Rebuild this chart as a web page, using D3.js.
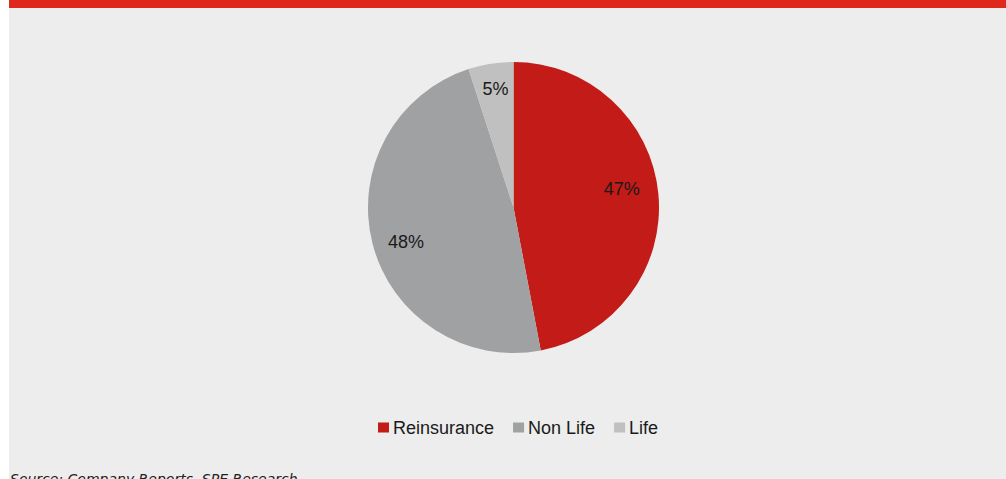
<!DOCTYPE html>
<html>
<head>
<meta charset="utf-8">
<script src="https://cdn.jsdelivr.net/npm/d3@7"></script>
<style>
  html, body { margin: 0; padding: 0; background: #ffffff; }
  svg { display: block; }
</style>
</head>
<body>
<svg id="chart" width="1006" height="479"></svg>
<script>
// ---- data ----
const categories = ["Reinsurance", "Non Life", "Life"];
const shares = [47, 48, 5];
const colors = ["#C21B18", "#A0A1A3", "#C0C0C0"];
const sourceText = "Source: Company Reports, SPE Research";

const W = 1006, H = 479;
const svg = d3.select("#chart");

// panel background
svg.append("rect").attr("x", 9).attr("y", 0).attr("width", W - 9).attr("height", H).attr("fill", "#ECEDEC");
// red title strip
svg.append("rect").attr("x", 9).attr("y", 0).attr("width", W - 9).attr("height", 8).attr("fill", "#E0271E");

const cx = 513.5, cy = 207.5, R = 145.5;
const g = svg.append("g").attr("transform", `translate(${cx},${cy})`);

const pie = d3.pie().sort(null).value(d => d.v);
const arcs = pie(categories.map((c, i) => ({ c, v: shares[i], col: colors[i] })));
const arc = d3.arc().innerRadius(0).outerRadius(R);

// label placement (best-fit style): angular shift in degrees and radius factor per slice
const labelShiftDeg = [-4.8, -3.2, 0.4];
const labelRadiusK = [0.756, 0.775, 0.825];

g.selectAll("path").data(arcs).enter().append("path")
  .attr("d", arc)
  .attr("fill", d => d.data.col);

g.selectAll("text.lbl").data(arcs).enter().append("text")
  .attr("class", "lbl")
  .attr("transform", (d, i) => {
    const a = (d.startAngle + d.endAngle) / 2 + labelShiftDeg[i] * Math.PI / 180;
    const r = R * labelRadiusK[i];
    return `translate(${r * Math.sin(a)},${-r * Math.cos(a)})`;
  })
  .attr("text-anchor", "middle")
  .attr("dy", "0.36em")
  .attr("font-family", "'Liberation Sans', Arial, sans-serif")
  .attr("font-size", 18)
  .attr("fill", "#1a1a1a")
  .text(d => d.data.v + "%");

// legend
const legend = svg.append("g").attr("font-family", "'Liberation Sans', Arial, sans-serif").attr("font-size", 18);
let lx = 378;
const ly = 434;
categories.forEach((c, i) => {
  legend.append("rect").attr("x", lx).attr("y", ly - 11.5).attr("width", 11).attr("height", 10).attr("fill", colors[i]);
  const t = legend.append("text").attr("x", lx + 15).attr("y", ly).attr("fill", "#1a1a1a").text(c);
  const w = t.node().getComputedTextLength();
  lx = lx + 15 + w + 19;
});

// source
svg.append("text")
  .attr("x", 10).attr("y", 484)
  .attr("font-family", "'DejaVu Sans', Verdana, sans-serif")
  .attr("font-style", "italic")
  .attr("font-size", 14)
  .attr("fill", "#222")
  .text(sourceText);
</script>
</body>
</html>
